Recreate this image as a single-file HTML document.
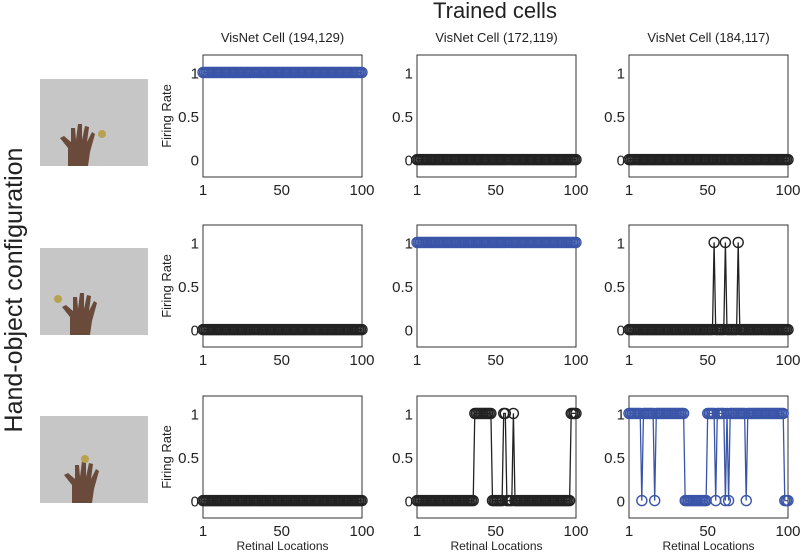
<!DOCTYPE html>
<html><head><meta charset="utf-8">
<style>
html,body{margin:0;padding:0;background:#fff;}
svg text{font-family:"Liberation Sans",sans-serif;fill:#222;}
</style></head>
<body>
<svg id="fig" width="800" height="552" viewBox="0 0 800 552" xmlns="http://www.w3.org/2000/svg">
<text x="495" y="18" font-size="22" text-anchor="middle">Trained cells</text>
<text transform="translate(22,290) rotate(-90)" font-size="25" text-anchor="middle">Hand-object configuration</text>
<g id="plots"></g>
</svg>
<script>
const N = 100;
const xTicks = [1, 50, 100];
const yTicks = [0, 0.5, 1];
const cellTitles = ["VisNet Cell (194,129)", "VisNet Cell (172,119)", "VisNet Cell (184,117)"];
const ones_r1c1 = "all";
const ones_r1c2 = [];
const ones_r1c3 = [];
const ones_r2c1 = [];
const ones_r2c2 = "all";
const ones_r2c3 = [54, 61, 69];
const ones_r3c1 = [];
const ones_r3c2 = [37,38,39,40,41,42,43,44,45,46,47,55,56,61,97,98,99,100];
const zeros_r3c3 = [9,17,36,37,38,39,40,41,42,43,44,45,46,47,48,49,55,61,63,74,98,99,100];
const panelColors = [["#3a55a8","#222","#222"],["#222","#3a55a8","#222"],["#222","#222","#3a55a8"]];

function series(ones, zeros){
  const v=[];
  for(let i=1;i<=N;i++){
    let y;
    if(zeros) y = zeros.includes(i)?0:1;
    else if(ones==="all") y=1;
    else y = ones.includes(i)?1:0;
    v.push(y);
  }
  return v;
}
const data = [
  [series(ones_r1c1), series(ones_r1c2), series(ones_r1c3)],
  [series(ones_r2c1), series(ones_r2c2), series(ones_r2c3)],
  [series(ones_r3c1), series(ones_r3c2), series(null, zeros_r3c3)]
];
const colLeft=[203,417,629], rowTop=[55,225,396], W=159, H=122;
const NS="http://www.w3.org/2000/svg";
const root=document.getElementById('plots');
function el(tag, attrs, parent){const e=document.createElementNS(NS,tag);for(const k in attrs)e.setAttribute(k,attrs[k]);(parent||root).appendChild(e);return e;}

const thumbTop=[79,248,416];
const objPos=[[102,134],[58,299],[85,459]];
const handX=[80,82,84];
for(let r=0;r<3;r++){
  const g=el('g',{});
  
  
  el('rect',{x:40,y:thumbTop[r],width:108,height:87,fill:'#c6c6c6'},g);
  const hx=handX[r], by=thumbTop[r]+87;
  el('path',{d:`M${hx-12} ${by} L${hx-12} ${by-18} L${hx-20} ${by-28} L${hx-16} ${by-30} L${hx-9} ${by-24} L${hx-9} ${by-38} L${hx-5} ${by-38} L${hx-4} ${by-26} L${hx-2} ${by-42} L${hx+2} ${by-42} L${hx+2} ${by-26} L${hx+5} ${by-40} L${hx+9} ${by-39} L${hx+7} ${by-24} L${hx+12} ${by-34} L${hx+15} ${by-32} L${hx+10} ${by-14} L${hx+8} ${by} Z`,fill:'#6a4a3a'},g);
  el('circle',{cx:objPos[r][0],cy:objPos[r][1],r:4,fill:'#b8a24e'},g);
}

for(let r=0;r<3;r++)for(let c=0;c<3;c++){
  const L=colLeft[c], T=rowTop[r];
  const xs=v=>L+(v-1)/(N-1)*W;
  const ys=v=>T+(1.2-v)/1.4*H;
  const g=el('g',{});
  
  
  el('rect',{x:L,y:T,width:W,height:H,fill:'none',stroke:'#333','stroke-width':1},g);
  for(const t of yTicks){
    const tx=el('text',{x:L-4,y:ys(t)+6,'font-size':15,'text-anchor':'end'},g);
    
    
    tx.textContent=String(t);
  }
  for(const t of xTicks){
    const tx=el('text',{x:xs(t),y:T+H+18,'font-size':15,'text-anchor':'middle'},g);
    
    
    tx.textContent=String(t);
  }
  if(r===0){
    const tt=el('text',{x:L+W/2,y:T-13,'font-size':13,'text-anchor':'middle'},g);
    
    
    tt.textContent=cellTitles[c];
  }
  if(c===0){
    const yl=el('text',{transform:`translate(${L-32},${T+H/2}) rotate(-90)`,'font-size':13,'text-anchor':'middle'},g);
    
    
    yl.textContent='Firing Rate';
  }
  if(r===2){
    const xl=el('text',{x:L+W/2,y:T+H+32,'font-size':12,'text-anchor':'middle'},g);
    
    
    xl.textContent='Retinal Locations';
  }
  const vals=data[r][c], col=panelColors[r][c];
  const pts=vals.map((v,i)=>xs(i+1).toFixed(1)+','+ys(v).toFixed(1)).join(' ');
  const line=el('polyline',{points:pts,fill:'none',stroke:col,'stroke-width':1.3},g);
  
  
  vals.forEach((v,i)=>{
    const m=el('circle',{cx:xs(i+1),cy:ys(v),r:5,fill:'none',stroke:col,'stroke-width':1.4},g);
    
    
  });
}
</script>
</body></html>
